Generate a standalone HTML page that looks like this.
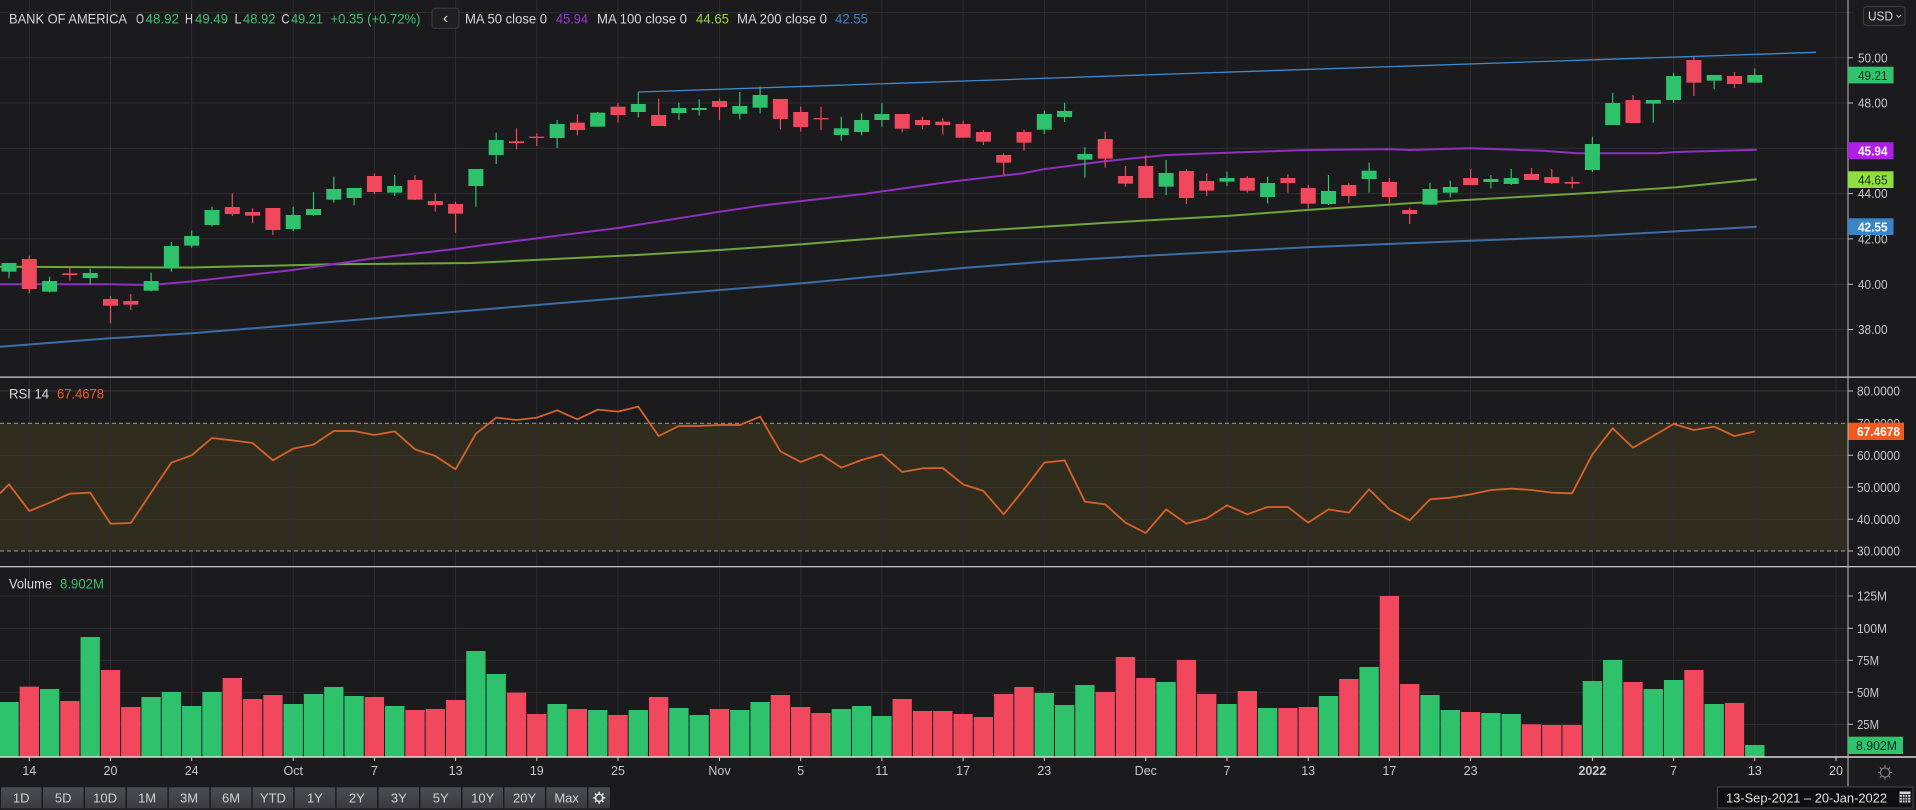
<!DOCTYPE html>
<html><head><meta charset="utf-8"><style>
html,body{margin:0;padding:0;background:#1b1b1e;width:1916px;height:810px;overflow:hidden}
svg{display:block;font-family:"Liberation Sans",sans-serif}
.g{fill:#2fc26c}.r{fill:#f2485e}
.gl{stroke:#2d2d32;stroke-width:1}
.ax{fill:#c8c8c8;font-size:12.5px}
.tl{fill:#c8c8c8;font-size:12.5px;text-anchor:middle}
.bt{fill:#d0d0d0;font-size:13px;text-anchor:middle}
</style></head><body>
<svg width="1916" height="810" viewBox="0 0 1916 810" xmlns="http://www.w3.org/2000/svg">
<defs><linearGradient id="bg" x1="0" y1="0" x2="0" y2="1"><stop offset="0" stop-color="#4c4d52"/><stop offset="1" stop-color="#3a3b40"/></linearGradient></defs>
<rect width="1916" height="810" fill="#1b1b1e"/>
<!-- RSI band -->
<rect x="0" y="423.3" width="1848" height="127.7" fill="#302c1e"/>
<!-- vertical grid -->
<g stroke="#2e2e33" stroke-width="1" stroke-opacity="0.95">
<path d="M29.3 0V757M110.5 0V757M191.7 0V757M293.2 0V757M374.4 0V757M455.6 0V757M536.8 0V757M618 0V757M719.5 0V757M800.7 0V757M881.9 0V757M963.1 0V757M1044.3 0V757M1145.8 0V757M1227 0V757M1308.2 0V757M1389.4 0V757M1470.6 0V757M1592.4 0V757M1673.6 0V757M1754.8 0V757M1836 0V757"/>
</g>
<!-- horizontal grid -->
<g stroke="#2e2e33" stroke-width="1">
<path d="M0 12.4H1853M0 57.7H1853M0 103H1853M0 148.3H1853M0 193.6H1853M0 238.9H1853M0 284.2H1853M0 329.5H1853"/>
<path d="M0 391H1853M0 455.3H1853M0 487.3H1853M0 519.3H1853" stroke="#3a3930"/>
<path d="M0 596H1853M0 628.3H1853M0 660.3H1853M0 692.3H1853M0 724.3H1853"/>
</g>
<path d="M0 423.3H1848M0 551H1848" stroke="#9c9c9c" stroke-width="1" stroke-dasharray="4 3"/>

<!-- MAs -->
<polyline fill="none" stroke="#3c6ea5" stroke-width="2" points="0,346.7 110,338.3 191.6,333.3 480,309.7 802,283.3 960,268.3 1043,261.7 1146.7,255.7 1306.7,247.3 1420,242.7 1593.3,236 1756.7,226.7"/>
<polyline fill="none" stroke="#6fa63c" stroke-width="2" points="0,266.7 110,267.3 191,267.5 333,264.3 471.5,263 570,258.3 636.8,255 720,250 801.7,244.3 883.3,237.7 950,232.7 1043,226.7 1106.7,222.7 1226.7,216 1306.7,210 1410,203.3 1593.3,192.7 1676.7,187.3 1756.7,179.3"/>
<polyline fill="none" stroke="#9030c0" stroke-width="2" points="0,284.3 110,284.3 151,285 191,281.5 293,270 333,264.3 374,258.3 455,249 480,245.5 618,228 720,211.7 760,205.7 801.7,201 863.3,194 950,181.7 1023,173.3 1043,169.3 1106.7,161 1166.7,155 1226.7,152.7 1306.7,150 1390,149.3 1410,150 1470,148.3 1543,150.7 1576.7,153.3 1656.7,153.3 1676.7,152 1756.7,149.7"/>
<line x1="638.3" y1="92" x2="1816" y2="52.3" stroke="#3d8ad0" stroke-width="1.3"/>

<!-- candles A -->
<g transform="translate(0,80) scale(1,0.333333)">
<rect class="g" x="8.4" y="549" width="1.2" height="46"/><rect class="g" x="1.5" y="549" width="15" height="26"/>
<rect class="r" x="28.7" y="527" width="1.2" height="113"/><rect class="r" x="21.8" y="537" width="15" height="90"/>
<rect class="g" x="49" y="590" width="1.2" height="47"/><rect class="g" x="42.1" y="603" width="15" height="32"/>
<rect class="r" x="69.3" y="560" width="1.2" height="42"/><rect class="r" x="62.4" y="580" width="15" height="5"/>
<rect class="g" x="89.6" y="566" width="1.2" height="47"/><rect class="g" x="82.7" y="579" width="15" height="15"/>
<rect class="r" x="109.9" y="648" width="1.2" height="82"/><rect class="r" x="103" y="657" width="15" height="20"/>
<rect class="r" x="130.2" y="642" width="1.2" height="48"/><rect class="r" x="123.3" y="663" width="15" height="11"/>
<rect class="g" x="150.5" y="578" width="1.2" height="56"/><rect class="g" x="143.6" y="603" width="15" height="29"/>
<rect class="g" x="170.8" y="486" width="1.2" height="89"/><rect class="g" x="163.9" y="498" width="15" height="67"/>
<rect class="g" x="191.1" y="452" width="1.2" height="51"/><rect class="g" x="184.2" y="468" width="15" height="29"/>
<rect class="g" x="211.4" y="380" width="1.2" height="60"/><rect class="g" x="204.5" y="390" width="15" height="45"/>
<rect class="r" x="231.7" y="340" width="1.2" height="68"/><rect class="r" x="224.8" y="381" width="15" height="21"/>
<rect class="r" x="252" y="385" width="1.2" height="45"/><rect class="r" x="245.1" y="396" width="15" height="11"/>
<rect class="r" x="272.3" y="384" width="1.2" height="81"/><rect class="r" x="265.4" y="384" width="15" height="66"/>
<rect class="g" x="292.6" y="380" width="1.2" height="73"/><rect class="g" x="285.7" y="405" width="15" height="42"/>
<rect class="g" x="312.9" y="336" width="1.2" height="71"/><rect class="g" x="306" y="387" width="15" height="18"/>
<rect class="g" x="333.2" y="290" width="1.2" height="78"/><rect class="g" x="326.3" y="327" width="15" height="32"/>
<rect class="g" x="353.5" y="324" width="1.2" height="52"/><rect class="g" x="346.6" y="324" width="15" height="30"/>
<rect class="r" x="373.8" y="280" width="1.2" height="62"/><rect class="r" x="366.9" y="288" width="15" height="48"/>
<rect class="g" x="394.1" y="285" width="1.2" height="63"/><rect class="g" x="387.2" y="318" width="15" height="20"/>
<rect class="r" x="414.4" y="285" width="1.2" height="75"/><rect class="r" x="407.5" y="300" width="15" height="59"/>
<rect class="r" x="434.7" y="340" width="1.2" height="55"/><rect class="r" x="427.8" y="363" width="15" height="12"/>
<rect class="r" x="455" y="365" width="1.2" height="93"/><rect class="r" x="448.1" y="372" width="15" height="29"/>
</g>
<!-- candles B -->
<g transform="translate(0,70) scale(1,0.333333)">
<rect class="g" x="475.3" y="297" width="1.2" height="113"/><rect class="g" x="468.4" y="297" width="15" height="51"/>
<rect class="g" x="495.6" y="188" width="1.2" height="94"/><rect class="g" x="488.7" y="210" width="15" height="45"/>
<rect class="r" x="515.9" y="175" width="1.2" height="63"/><rect class="r" x="509" y="214" width="15" height="5"/>
<rect class="r" x="536.2" y="190" width="1.2" height="38"/><rect class="r" x="529.3" y="200" width="15" height="4"/>
<rect class="g" x="556.5" y="150" width="1.2" height="84"/><rect class="g" x="549.6" y="162" width="15" height="42"/>
<rect class="r" x="576.8" y="133" width="1.2" height="63"/><rect class="r" x="569.9" y="158" width="15" height="22"/>
<rect class="g" x="597.1" y="126" width="1.2" height="44"/><rect class="g" x="590.2" y="128" width="15" height="42"/>
<rect class="r" x="617.4" y="100" width="1.2" height="58"/><rect class="r" x="610.5" y="110" width="15" height="25"/>
<rect class="g" x="637.7" y="66" width="1.2" height="76"/><rect class="g" x="630.8" y="102" width="15" height="24"/>
<rect class="r" x="658" y="86" width="1.2" height="82"/><rect class="r" x="651.1" y="135" width="15" height="33"/>
<rect class="g" x="678.3" y="98" width="1.2" height="52"/><rect class="g" x="671.4" y="114" width="15" height="15"/>
<rect class="g" x="698.6" y="88" width="1.2" height="49"/><rect class="g" x="691.7" y="114" width="15" height="6"/>
<rect class="r" x="718.9" y="86" width="1.2" height="64"/><rect class="r" x="712" y="93" width="15" height="18"/>
<rect class="g" x="739.2" y="66" width="1.2" height="82"/><rect class="g" x="732.3" y="108" width="15" height="23"/>
<rect class="g" x="759.5" y="50" width="1.2" height="80"/><rect class="g" x="752.6" y="75" width="15" height="38"/>
<rect class="r" x="779.8" y="87" width="1.2" height="91"/><rect class="r" x="772.9" y="87" width="15" height="60"/>
<rect class="r" x="800.1" y="110" width="1.2" height="75"/><rect class="r" x="793.2" y="126" width="15" height="45"/>
<rect class="r" x="820.4" y="110" width="1.2" height="70"/><rect class="r" x="813.5" y="144" width="15" height="4"/>
<rect class="g" x="840.7" y="140" width="1.2" height="72"/><rect class="g" x="833.8" y="175" width="15" height="20"/>
<rect class="g" x="861" y="130" width="1.2" height="66"/><rect class="g" x="854.1" y="150" width="15" height="36"/>
<rect class="g" x="881.3" y="100" width="1.2" height="70"/><rect class="g" x="874.4" y="132" width="15" height="18"/>
<rect class="r" x="901.6" y="132" width="1.2" height="55"/><rect class="r" x="894.7" y="132" width="15" height="44"/>
<rect class="r" x="921.9" y="140" width="1.2" height="38"/><rect class="r" x="915" y="150" width="15" height="15"/>
<rect class="r" x="942.2" y="145" width="1.2" height="48"/><rect class="r" x="935.3" y="155" width="15" height="10"/>
</g>
<!-- candles C -->
<g transform="translate(0,90) scale(1,0.333333)">
<rect class="r" x="962.5" y="92" width="1.2" height="51"/><rect class="r" x="955.6" y="102" width="15" height="41"/>
<rect class="r" x="982.8" y="120" width="1.2" height="45"/><rect class="r" x="975.9" y="126" width="15" height="29"/>
<rect class="r" x="1003.1" y="190" width="1.2" height="67"/><rect class="r" x="996.2" y="195" width="15" height="23"/>
<rect class="r" x="1023.4" y="118" width="1.2" height="64"/><rect class="r" x="1016.5" y="126" width="15" height="32"/>
<rect class="g" x="1043.7" y="62" width="1.2" height="70"/><rect class="g" x="1036.8" y="72" width="15" height="47"/>
<rect class="g" x="1064" y="38" width="1.2" height="58"/><rect class="g" x="1057.1" y="63" width="15" height="18"/>
<rect class="g" x="1084.3" y="172" width="1.2" height="91"/><rect class="g" x="1077.4" y="192" width="15" height="17"/>
<rect class="r" x="1104.6" y="125" width="1.2" height="108"/><rect class="r" x="1097.7" y="147" width="15" height="59"/>
<rect class="r" x="1124.9" y="228" width="1.2" height="62"/><rect class="r" x="1118" y="258" width="15" height="23"/>
<rect class="r" x="1145.2" y="196" width="1.2" height="128"/><rect class="r" x="1138.3" y="228" width="15" height="96"/>
<rect class="g" x="1165.5" y="210" width="1.2" height="105"/><rect class="g" x="1158.6" y="249" width="15" height="41"/>
<rect class="r" x="1185.8" y="238" width="1.2" height="104"/><rect class="r" x="1178.9" y="243" width="15" height="81"/>
<rect class="r" x="1206.1" y="250" width="1.2" height="68"/><rect class="r" x="1199.2" y="273" width="15" height="29"/>
<rect class="g" x="1226.4" y="245" width="1.2" height="43"/><rect class="g" x="1219.5" y="264" width="15" height="11"/>
<rect class="r" x="1246.7" y="258" width="1.2" height="50"/><rect class="r" x="1239.8" y="264" width="15" height="38"/>
<rect class="g" x="1267" y="260" width="1.2" height="80"/><rect class="g" x="1260.1" y="279" width="15" height="42"/>
<rect class="r" x="1287.3" y="253" width="1.2" height="55"/><rect class="r" x="1280.4" y="264" width="15" height="15"/>
<rect class="r" x="1307.6" y="285" width="1.2" height="70"/><rect class="r" x="1300.7" y="294" width="15" height="47"/>
<rect class="g" x="1327.9" y="255" width="1.2" height="90"/><rect class="g" x="1321" y="303" width="15" height="39"/>
<rect class="r" x="1348.2" y="278" width="1.2" height="62"/><rect class="r" x="1341.3" y="285" width="15" height="33"/>
<rect class="g" x="1368.5" y="218" width="1.2" height="90"/><rect class="g" x="1361.6" y="242" width="15" height="25"/>
<rect class="r" x="1388.8" y="264" width="1.2" height="76"/><rect class="r" x="1381.9" y="276" width="15" height="45"/>
<rect class="r" x="1409.1" y="353" width="1.2" height="49"/><rect class="r" x="1402.2" y="360" width="15" height="12"/>
</g>
<!-- candles D -->
<g transform="scale(1,0.333333)">
<rect class="g" x="1429.4" y="548" width="1.2" height="66"/><rect class="g" x="1422.5" y="567" width="15" height="47"/>
<rect class="g" x="1449.7" y="542" width="1.2" height="50"/><rect class="g" x="1442.8" y="561" width="15" height="17"/>
<rect class="r" x="1470" y="507" width="1.2" height="48"/><rect class="r" x="1463.1" y="534" width="15" height="21"/>
<rect class="g" x="1490.3" y="525" width="1.2" height="40"/><rect class="g" x="1483.4" y="537" width="15" height="9"/>
<rect class="g" x="1510.6" y="507" width="1.2" height="48"/><rect class="g" x="1503.7" y="534" width="15" height="18"/>
<rect class="r" x="1530.9" y="504" width="1.2" height="36"/><rect class="r" x="1524" y="522" width="15" height="18"/>
<rect class="r" x="1551.2" y="507" width="1.2" height="45"/><rect class="r" x="1544.3" y="531" width="15" height="18"/>
<rect class="r" x="1571.5" y="530" width="1.2" height="35"/><rect class="r" x="1564.6" y="546" width="15" height="5"/>
<rect class="g" x="1591.8" y="410" width="1.2" height="106"/><rect class="g" x="1584.9" y="432" width="15" height="78"/>
<rect class="g" x="1612.1" y="279" width="1.2" height="96"/><rect class="g" x="1605.2" y="309" width="15" height="66"/>
<rect class="r" x="1632.4" y="285" width="1.2" height="84"/><rect class="r" x="1625.5" y="300" width="15" height="69"/>
<rect class="g" x="1652.7" y="300" width="1.2" height="68"/><rect class="g" x="1645.8" y="300" width="15" height="11"/>
<rect class="g" x="1673" y="218" width="1.2" height="91"/><rect class="g" x="1666.1" y="228" width="15" height="72"/>
<rect class="r" x="1693.3" y="170" width="1.2" height="118"/><rect class="r" x="1686.4" y="180" width="15" height="68"/>
<rect class="g" x="1713.6" y="225" width="1.2" height="43"/><rect class="g" x="1706.7" y="225" width="15" height="17"/>
<rect class="r" x="1733.9" y="216" width="1.2" height="48"/><rect class="r" x="1727" y="228" width="15" height="24"/>
<rect class="g" x="1754.2" y="205" width="1.2" height="43"/><rect class="g" x="1747.3" y="225" width="15" height="23"/>
</g>

<!-- RSI line -->
<g transform="translate(0,376) scale(1,0.333333)">
<polyline fill="none" stroke="#d9622b" stroke-width="1.8" vector-effect="non-scaling-stroke" stroke-linejoin="round" points="0,352 9,325 29.3,405 49.6,380 69.9,353 90.2,350 110.5,443 130.8,441 151.1,350 171.4,260 191.7,238 212,186 232.3,193 252.6,201 272.9,253 293.2,218 313.5,206 333.8,165 354.1,165 374.4,177 394.7,166 415,220 435.3,240 455.6,280 475.9,173 496.2,125 516.5,132 536.8,125 557.1,103 577.4,130 597.7,101 618,107 638.3,92 658.6,180 678.9,150 699.2,150 719.5,147 739.8,147 760.1,122 780.4,226 800.7,258 821,235 841.3,275 861.6,252 881.9,235 902.2,288 922.5,277 942.8,276 963.1,325 983.4,345 1003.7,415 1024,340 1044.3,260 1064.6,253 1084.9,377 1105.2,385 1125.5,440 1145.8,471 1166.1,400 1186.4,443 1206.7,427 1227,388 1247.3,415 1267.6,393 1287.9,393 1308.2,440 1328.5,400 1348.8,410 1369.1,340 1389.4,400 1409.7,433 1430,370 1450.3,365 1470.6,355 1490.9,342 1511.2,338 1531.5,342 1551.8,350 1572.1,352 1592.4,235 1612.7,157 1633,215 1653.3,180 1673.6,144 1693.9,162 1714.2,152 1734.5,180 1754.8,166"/>
</g>

<!-- volume -->
<g transform="translate(0,566) scale(1,0.333333)">
<rect class="g" x="0" y="408" width="18.65" height="165"/>
<rect class="r" x="19.65" y="362" width="19.3" height="211"/>
<rect class="g" x="39.95" y="369" width="19.3" height="204"/>
<rect class="r" x="60.25" y="405" width="19.3" height="168"/>
<rect class="g" x="80.55" y="213" width="19.3" height="360"/>
<rect class="r" x="100.85" y="312" width="19.3" height="261"/>
<rect class="r" x="121.15" y="423" width="19.3" height="150"/>
<rect class="g" x="141.45" y="393" width="19.3" height="180"/>
<rect class="g" x="161.75" y="378" width="19.3" height="195"/>
<rect class="g" x="182.05" y="420" width="19.3" height="153"/>
<rect class="g" x="202.35" y="378" width="19.3" height="195"/>
<rect class="r" x="222.65" y="336" width="19.3" height="237"/>
<rect class="r" x="242.95" y="399" width="19.3" height="174"/>
<rect class="r" x="263.25" y="387" width="19.3" height="186"/>
<rect class="g" x="283.55" y="414" width="19.3" height="159"/>
<rect class="g" x="303.85" y="384" width="19.3" height="189"/>
<rect class="g" x="324.15" y="363" width="19.3" height="210"/>
<rect class="g" x="344.45" y="390" width="19.3" height="183"/>
<rect class="r" x="364.75" y="393" width="19.3" height="180"/>
<rect class="g" x="385.05" y="420" width="19.3" height="153"/>
<rect class="r" x="405.35" y="432" width="19.3" height="141"/>
<rect class="r" x="425.65" y="429" width="19.3" height="144"/>
<rect class="r" x="445.95" y="402" width="19.3" height="171"/>
<rect class="g" x="466.25" y="255" width="19.3" height="318"/>
<rect class="g" x="486.55" y="324" width="19.3" height="249"/>
<rect class="r" x="506.85" y="380" width="19.3" height="193"/>
<rect class="r" x="527.15" y="444" width="19.3" height="129"/>
<rect class="g" x="547.45" y="414" width="19.3" height="159"/>
<rect class="r" x="567.75" y="429" width="19.3" height="144"/>
<rect class="g" x="588.05" y="432" width="19.3" height="141"/>
<rect class="r" x="608.35" y="447" width="19.3" height="126"/>
<rect class="g" x="628.65" y="432" width="19.3" height="141"/>
<rect class="r" x="648.95" y="393" width="19.3" height="180"/>
<rect class="g" x="669.25" y="426" width="19.3" height="147"/>
<rect class="g" x="689.55" y="447" width="19.3" height="126"/>
<rect class="r" x="709.85" y="429" width="19.3" height="144"/>
<rect class="g" x="730.15" y="432" width="19.3" height="141"/>
<rect class="g" x="750.45" y="408" width="19.3" height="165"/>
<rect class="r" x="770.75" y="387" width="19.3" height="186"/>
<rect class="r" x="791.05" y="423" width="19.3" height="150"/>
<rect class="r" x="811.35" y="441" width="19.3" height="132"/>
<rect class="g" x="831.65" y="429" width="19.3" height="144"/>
<rect class="g" x="851.95" y="420" width="19.3" height="153"/>
<rect class="g" x="872.25" y="450" width="19.3" height="123"/>
<rect class="r" x="892.55" y="399" width="19.3" height="174"/>
<rect class="r" x="912.85" y="435" width="19.3" height="138"/>
<rect class="r" x="933.15" y="435" width="19.3" height="138"/>
<rect class="r" x="953.45" y="444" width="19.3" height="129"/>
<rect class="r" x="973.75" y="453" width="19.3" height="120"/>
<rect class="r" x="994.05" y="384" width="19.3" height="189"/>
<rect class="r" x="1014.35" y="363" width="19.3" height="210"/>
<rect class="g" x="1034.65" y="381" width="19.3" height="192"/>
<rect class="g" x="1054.95" y="417" width="19.3" height="156"/>
<rect class="g" x="1075.25" y="357" width="19.3" height="216"/>
<rect class="r" x="1095.55" y="378" width="19.3" height="195"/>
<rect class="r" x="1115.85" y="273" width="19.3" height="300"/>
<rect class="r" x="1136.15" y="336" width="19.3" height="237"/>
<rect class="g" x="1156.45" y="348" width="19.3" height="225"/>
<rect class="r" x="1176.75" y="282" width="19.3" height="291"/>
<rect class="r" x="1197.05" y="384" width="19.3" height="189"/>
<rect class="g" x="1217.35" y="414" width="19.3" height="159"/>
<rect class="r" x="1237.65" y="375" width="19.3" height="198"/>
<rect class="g" x="1257.95" y="426" width="19.3" height="147"/>
<rect class="r" x="1278.25" y="426" width="19.3" height="147"/>
<rect class="r" x="1298.55" y="423" width="19.3" height="150"/>
<rect class="g" x="1318.85" y="390" width="19.3" height="183"/>
<rect class="r" x="1339.15" y="339" width="19.3" height="234"/>
<rect class="g" x="1359.45" y="303" width="19.3" height="270"/>
<rect class="r" x="1379.75" y="90" width="19.3" height="483"/>
<rect class="r" x="1400.05" y="354" width="19.3" height="219"/>
<rect class="g" x="1420.35" y="387" width="19.3" height="186"/>
<rect class="g" x="1440.65" y="432" width="19.3" height="141"/>
<rect class="r" x="1460.95" y="438" width="19.3" height="135"/>
<rect class="g" x="1481.25" y="441" width="19.3" height="132"/>
<rect class="g" x="1501.55" y="444" width="19.3" height="129"/>
<rect class="r" x="1521.85" y="475" width="19.3" height="98"/>
<rect class="r" x="1542.15" y="477" width="19.3" height="96"/>
<rect class="r" x="1562.45" y="477" width="19.3" height="96"/>
<rect class="g" x="1582.75" y="345" width="19.3" height="228"/>
<rect class="g" x="1603.05" y="282" width="19.3" height="291"/>
<rect class="r" x="1623.35" y="348" width="19.3" height="225"/>
<rect class="g" x="1643.65" y="369" width="19.3" height="204"/>
<rect class="g" x="1663.95" y="342" width="19.3" height="231"/>
<rect class="r" x="1684.25" y="312" width="19.3" height="261"/>
<rect class="g" x="1704.55" y="414" width="19.3" height="159"/>
<rect class="r" x="1724.85" y="411" width="19.3" height="162"/>
<rect class="g" x="1745.15" y="537" width="19.3" height="36"/>
</g>

<!-- panel separators / axes -->
<rect x="0" y="376.5" width="1916" height="1.3" fill="#c4c4c4"/>
<rect x="0" y="566" width="1916" height="1.3" fill="#c4c4c4"/>
<rect x="0" y="756.3" width="1916" height="1.4" fill="#e4e4e4"/>
<rect x="1847.5" y="0" width="1" height="786" fill="#bdbdbd"/>
<!-- axis ticks -->
<path stroke="#bdbdbd" stroke-width="1" d="M1848 57.7H1853M1848 103H1853M1848 193.6H1853M1848 238.9H1853M1848 284.2H1853M1848 329.5H1853M1848 391H1853M1848 455.3H1853M1848 487.3H1853M1848 519.3H1853M1848 551H1853M1848 596H1853M1848 628.3H1853M1848 660.3H1853M1848 692.3H1853M1848 724.3H1853"/>
<path stroke="#cccccc" stroke-width="1" d="M29.3 757V761M110.5 757V761M191.7 757V761M293.2 757V761M374.4 757V761M455.6 757V761M536.8 757V761M618 757V761M719.5 757V761M800.7 757V761M881.9 757V761M963.1 757V761M1044.3 757V761M1145.8 757V761M1227 757V761M1308.2 757V761M1389.4 757V761M1470.6 757V761M1592.4 757V761M1673.6 757V761M1754.8 757V761M1836 757V761"/>

<!-- price axis labels -->
<text class="ax" x="1858" y="62.3" textLength="29.5" lengthAdjust="spacingAndGlyphs">50.00</text>
<text class="ax" x="1858" y="107.6" textLength="29.5" lengthAdjust="spacingAndGlyphs">48.00</text>
<text class="ax" x="1858" y="198.2" textLength="29.5" lengthAdjust="spacingAndGlyphs">44.00</text>
<text class="ax" x="1858" y="243.5" textLength="29.5" lengthAdjust="spacingAndGlyphs">42.00</text>
<text class="ax" x="1858" y="288.8" textLength="29.5" lengthAdjust="spacingAndGlyphs">40.00</text>
<text class="ax" x="1858" y="334.1" textLength="29.5" lengthAdjust="spacingAndGlyphs">38.00</text>
<!-- RSI axis labels -->
<text class="ax" x="1857" y="395.6" textLength="43" lengthAdjust="spacingAndGlyphs">80.0000</text>
<text class="ax" x="1857" y="427.9" textLength="43" lengthAdjust="spacingAndGlyphs">70.0000</text>
<text class="ax" x="1857" y="459.9" textLength="43" lengthAdjust="spacingAndGlyphs">60.0000</text>
<text class="ax" x="1857" y="491.9" textLength="43" lengthAdjust="spacingAndGlyphs">50.0000</text>
<text class="ax" x="1857" y="523.9" textLength="43" lengthAdjust="spacingAndGlyphs">40.0000</text>
<text class="ax" x="1857" y="555.6" textLength="43" lengthAdjust="spacingAndGlyphs">30.0000</text>
<!-- volume axis labels -->
<text class="ax" x="1857" y="600.6" textLength="30" lengthAdjust="spacingAndGlyphs">125M</text>
<text class="ax" x="1857" y="632.9" textLength="30" lengthAdjust="spacingAndGlyphs">100M</text>
<text class="ax" x="1857" y="664.9" textLength="22" lengthAdjust="spacingAndGlyphs">75M</text>
<text class="ax" x="1857" y="696.9" textLength="22" lengthAdjust="spacingAndGlyphs">50M</text>
<text class="ax" x="1857" y="728.9" textLength="22" lengthAdjust="spacingAndGlyphs">25M</text>

<!-- tags -->
<rect x="1848" y="66.7" width="45.5" height="16.7" fill="#2fc46d"/>
<text x="1858" y="79.8" font-size="12.5" fill="#102a18" textLength="29.5" lengthAdjust="spacingAndGlyphs">49.21</text>
<rect x="1848" y="142.3" width="45.5" height="16.7" fill="#b11ee6"/>
<text x="1858" y="155.4" font-size="12.5" font-weight="bold" fill="#ffffff" textLength="29.5" lengthAdjust="spacingAndGlyphs">45.94</text>
<rect x="1848" y="171.3" width="45.5" height="16.7" fill="#8fe03e"/>
<text x="1858" y="184.4" font-size="12.5" fill="#1c2a10" textLength="29.5" lengthAdjust="spacingAndGlyphs">44.65</text>
<rect x="1848" y="218.3" width="45.5" height="16.7" fill="#3a84c8"/>
<text x="1858" y="231.4" font-size="12.5" font-weight="bold" fill="#ffffff" textLength="29.5" lengthAdjust="spacingAndGlyphs">42.55</text>
<rect x="1848.5" y="422.7" width="55.5" height="17.3" fill="#f05a1c"/>
<text x="1857" y="436" font-size="12.5" font-weight="bold" fill="#ffffff" textLength="43" lengthAdjust="spacingAndGlyphs">67.4678</text>
<rect x="1848" y="736.7" width="55" height="17.3" fill="#2fc46d"/>
<text x="1856" y="750" font-size="12.5" fill="#102a18" textLength="41" lengthAdjust="spacingAndGlyphs">8.902M</text>

<!-- USD button -->
<rect x="1863.5" y="6.5" width="41.5" height="19" rx="3" fill="#1e1e22" stroke="#3c3c42"/>
<text x="1868" y="20.3" font-size="12.5" fill="#d6d6d6" textLength="25" lengthAdjust="spacingAndGlyphs">USD</text>
<path d="M1896.5 15 L1898.8 17.3 L1901.1 15" fill="none" stroke="#bbb" stroke-width="1"/>

<!-- header -->
<g font-size="14">
<text x="9" y="23.3" fill="#d8d8d8" textLength="118" lengthAdjust="spacingAndGlyphs">BANK OF AMERICA</text>
<text x="136" y="23.3" fill="#d8d8d8" textLength="8" lengthAdjust="spacingAndGlyphs">O</text>
<text x="145.5" y="23.3" fill="#3cc06c" textLength="33.5" lengthAdjust="spacingAndGlyphs">48.92</text>
<text x="185" y="23.3" fill="#d8d8d8" textLength="8" lengthAdjust="spacingAndGlyphs">H</text>
<text x="195" y="23.3" fill="#3cc06c" textLength="33" lengthAdjust="spacingAndGlyphs">49.49</text>
<text x="234.5" y="23.3" fill="#d8d8d8" textLength="7" lengthAdjust="spacingAndGlyphs">L</text>
<text x="243" y="23.3" fill="#3cc06c" textLength="32.5" lengthAdjust="spacingAndGlyphs">48.92</text>
<text x="281.5" y="23.3" fill="#d8d8d8" textLength="8" lengthAdjust="spacingAndGlyphs">C</text>
<text x="291" y="23.3" fill="#3cc06c" textLength="32" lengthAdjust="spacingAndGlyphs">49.21</text>
<text x="330.5" y="23.3" fill="#3cc06c" textLength="90" lengthAdjust="spacingAndGlyphs">+0.35 (+0.72%)</text>
<rect x="432" y="8.3" width="27" height="20" rx="3" fill="#1f1f23" stroke="#3c3c42"/>
<text x="445.5" y="23" fill="#dddddd" font-size="16" text-anchor="middle">‹</text>
<text x="465" y="23.3" fill="#d8d8d8" textLength="82" lengthAdjust="spacingAndGlyphs">MA 50 close 0</text>
<text x="556" y="23.3" fill="#9a34d4" textLength="32" lengthAdjust="spacingAndGlyphs">45.94</text>
<text x="597" y="23.3" fill="#d8d8d8" textLength="90" lengthAdjust="spacingAndGlyphs">MA 100 close 0</text>
<text x="696" y="23.3" fill="#8fd63e" textLength="33" lengthAdjust="spacingAndGlyphs">44.65</text>
<text x="737" y="23.3" fill="#d8d8d8" textLength="90" lengthAdjust="spacingAndGlyphs">MA 200 close 0</text>
<text x="835" y="23.3" fill="#3f82c8" textLength="33" lengthAdjust="spacingAndGlyphs">42.55</text>
<text x="9" y="398.7" fill="#d8d8d8" textLength="40" lengthAdjust="spacingAndGlyphs">RSI 14</text>
<text x="57" y="398.7" fill="#e85a28" textLength="47" lengthAdjust="spacingAndGlyphs">67.4678</text>
<text x="9" y="588.7" fill="#d8d8d8" textLength="43" lengthAdjust="spacingAndGlyphs">Volume</text>
<text x="60" y="588.7" fill="#3cc06c" textLength="44" lengthAdjust="spacingAndGlyphs">8.902M</text>
</g>

<!-- time labels -->
<text class="tl" x="29.3" y="775">14</text>
<text class="tl" x="110.5" y="775">20</text>
<text class="tl" x="191.7" y="775">24</text>
<text class="tl" x="293.2" y="775">Oct</text>
<text class="tl" x="374.4" y="775">7</text>
<text class="tl" x="455.6" y="775">13</text>
<text class="tl" x="536.8" y="775">19</text>
<text class="tl" x="618" y="775">25</text>
<text class="tl" x="719.5" y="775">Nov</text>
<text class="tl" x="800.7" y="775">5</text>
<text class="tl" x="881.9" y="775">11</text>
<text class="tl" x="963.1" y="775">17</text>
<text class="tl" x="1044.3" y="775">23</text>
<text class="tl" x="1145.8" y="775">Dec</text>
<text class="tl" x="1227" y="775">7</text>
<text class="tl" x="1308.2" y="775">13</text>
<text class="tl" x="1389.4" y="775">17</text>
<text class="tl" x="1470.6" y="775">23</text>
<text class="tl" x="1592.4" y="775" font-weight="bold">2022</text>
<text class="tl" x="1673.6" y="775">7</text>
<text class="tl" x="1754.8" y="775">13</text>
<text class="tl" x="1836" y="775">20</text>

<!-- axis gear icon -->
<g stroke="#8a8a8a" stroke-width="1.1" fill="none">
<circle cx="1885" cy="772.5" r="4.6"/>
<path d="M1885 765.4V767.4M1885 777.6V779.6M1877.9 772.5H1879.9M1890.1 772.5H1892.1M1880 767.5L1881.4 768.9M1888.6 776.1L1890 777.5M1880 777.5L1881.4 776.1M1888.6 768.9L1890 767.5"/>
</g>

<!-- toolbar -->
<g>
<rect x="1" y="787.3" width="40.5" height="21" fill="url(#bg)"/><text class="bt" x="21.2" y="802.5">1D</text>
<rect x="43" y="787.3" width="40.5" height="21" fill="url(#bg)"/><text class="bt" x="63.2" y="802.5">5D</text>
<rect x="84.9" y="787.3" width="40.5" height="21" fill="url(#bg)"/><text class="bt" x="105.1" y="802.5">10D</text>
<rect x="126.9" y="787.3" width="40.5" height="21" fill="url(#bg)"/><text class="bt" x="147.1" y="802.5">1M</text>
<rect x="168.8" y="787.3" width="40.5" height="21" fill="url(#bg)"/><text class="bt" x="189" y="802.5">3M</text>
<rect x="210.8" y="787.3" width="40.5" height="21" fill="url(#bg)"/><text class="bt" x="231" y="802.5">6M</text>
<rect x="252.7" y="787.3" width="40.5" height="21" fill="url(#bg)"/><text class="bt" x="272.9" y="802.5">YTD</text>
<rect x="294.7" y="787.3" width="40.5" height="21" fill="url(#bg)"/><text class="bt" x="314.9" y="802.5">1Y</text>
<rect x="336.6" y="787.3" width="40.5" height="21" fill="url(#bg)"/><text class="bt" x="356.8" y="802.5">2Y</text>
<rect x="378.6" y="787.3" width="40.5" height="21" fill="url(#bg)"/><text class="bt" x="398.8" y="802.5">3Y</text>
<rect x="420.5" y="787.3" width="40.5" height="21" fill="url(#bg)"/><text class="bt" x="440.7" y="802.5">5Y</text>
<rect x="462.5" y="787.3" width="40.5" height="21" fill="url(#bg)"/><text class="bt" x="482.7" y="802.5">10Y</text>
<rect x="504.4" y="787.3" width="40.5" height="21" fill="url(#bg)"/><text class="bt" x="524.6" y="802.5">20Y</text>
<rect x="546.4" y="787.3" width="40.5" height="21" fill="url(#bg)"/><text class="bt" x="566.6" y="802.5">Max</text>
<rect x="588.4" y="787.3" width="21.5" height="21" fill="url(#bg)"/>
<g stroke="#e0e0e0" stroke-width="1.6" fill="none">
<circle cx="599.2" cy="797.8" r="3.6"/>
<path d="M599.2 791.8V793.6M599.2 802V803.8M593.2 797.8H595M603.4 797.8H605.2M595 793.6L596.2 794.8M602.2 800.8L603.4 802M595 802L596.2 800.8M602.2 794.8L603.4 793.6"/>
</g>
</g>

<!-- date range box -->
<rect x="1717.5" y="787" width="195.5" height="21" fill="#0f0f11" stroke="#4a4a50"/>
<text x="1726" y="802.7" font-size="13" fill="#e0e0e0" textLength="161" lengthAdjust="spacingAndGlyphs">13-Sep-2021  –  20-Jan-2022</text>
<g fill="#d0d0d0">
<rect x="1899.5" y="791.5" width="11" height="11"/>
</g>
<path d="M1899.5 794.5H1910.5M1899.5 797.3H1910.5M1899.5 800H1910.5M1902.3 794.5V802.5M1905 794.5V802.5M1907.7 794.5V802.5" stroke="#0f0f11" stroke-width="0.8"/>
</svg>
</body></html>
